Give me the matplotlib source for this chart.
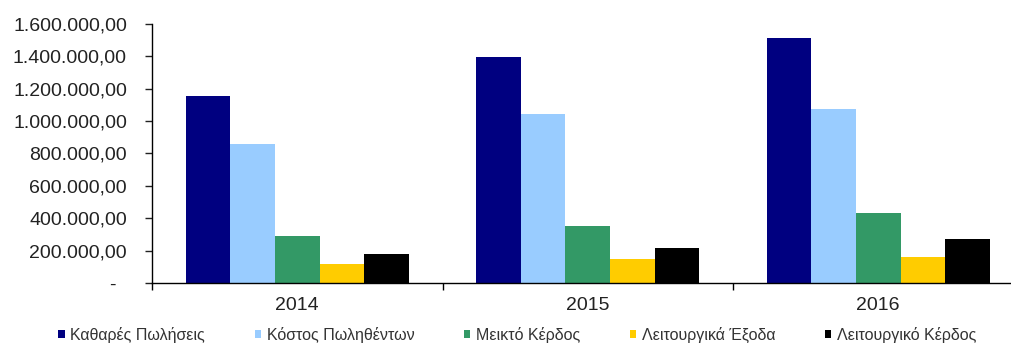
import matplotlib.pyplot as plt
import numpy as np

years = ["2014", "2015", "2016"]
series_names = ["Καθαρές Πωλήσεις", "Κόστος Πωληθέντων", "Μεικτό Κέρδος",
                "Λειτουργικά Έξοδα", "Λειτουργικό Κέρδος"]
net_sales = [1155000, 1396000, 1513000]
cost_of_sales = [859000, 1044000, 1075000]
gross_profit = [290000, 352000, 432000]
operating_expenses = [117000, 148000, 160000]
operating_profit = [180000, 216000, 270000]
colors = ["#000080", "#99CCFF", "#339966", "#FFCC00", "#000000"]

yticks = [0, 200000, 400000, 600000, 800000, 1000000, 1200000, 1400000, 1600000]


def fmt(v):
    if v == 0:
        return "-  "
    s = f"{v:,.2f}"
    return s.replace(",", "X").replace(".", ",").replace("X", ".")


plt.rcParams['font.family'] = ['Liberation Sans', 'DejaVu Sans']

fig = plt.figure(figsize=(10.11, 3.47), dpi=100)
ax = fig.add_axes([152 / 1011, 64 / 347, 871.5 / 1011, 259 / 347])

values = [net_sales, cost_of_sales, gross_profit, operating_expenses, operating_profit]
x = np.arange(len(years))
w = 0.1535
handles = []
for i, vals in enumerate(values):
    b = ax.bar(x + (i - 2) * w, vals, w, color=colors[i], label=series_names[i])
    handles.append(b)

ax.set_xlim(-0.5, 2.5)
ax.set_ylim(0, 1600000)
ax.set_yticks(yticks)
ax.set_yticklabels([fmt(v) for v in yticks])
ax.set_xticks(x)
ax.set_xticklabels(years)
ax.set_xticks([-0.5, 0.5, 1.5, 2.5], minor=True)

ax.tick_params(axis='y', length=5, width=1, pad=13, labelsize=14, colors='#222222')
ax.tick_params(axis='x', which='major', length=0, pad=10, labelsize=14, colors='#222222')
ax.tick_params(axis='x', which='minor', length=5, width=1)
ax.spines['top'].set_visible(False)
ax.spines['right'].set_visible(False)
for s in ['left', 'bottom']:
    ax.spines[s].set_linewidth(1)

fig.legend(handles=handles, loc='lower left', bbox_to_anchor=(44 / 1011, -0.03),
           ncol=5, frameon=False, fontsize=11.5, handlelength=0.4, handleheight=0.4,
           handletextpad=0.35, columnspacing=3.1, labelcolor='#333333')

fig.savefig("out.png", dpi=100)
